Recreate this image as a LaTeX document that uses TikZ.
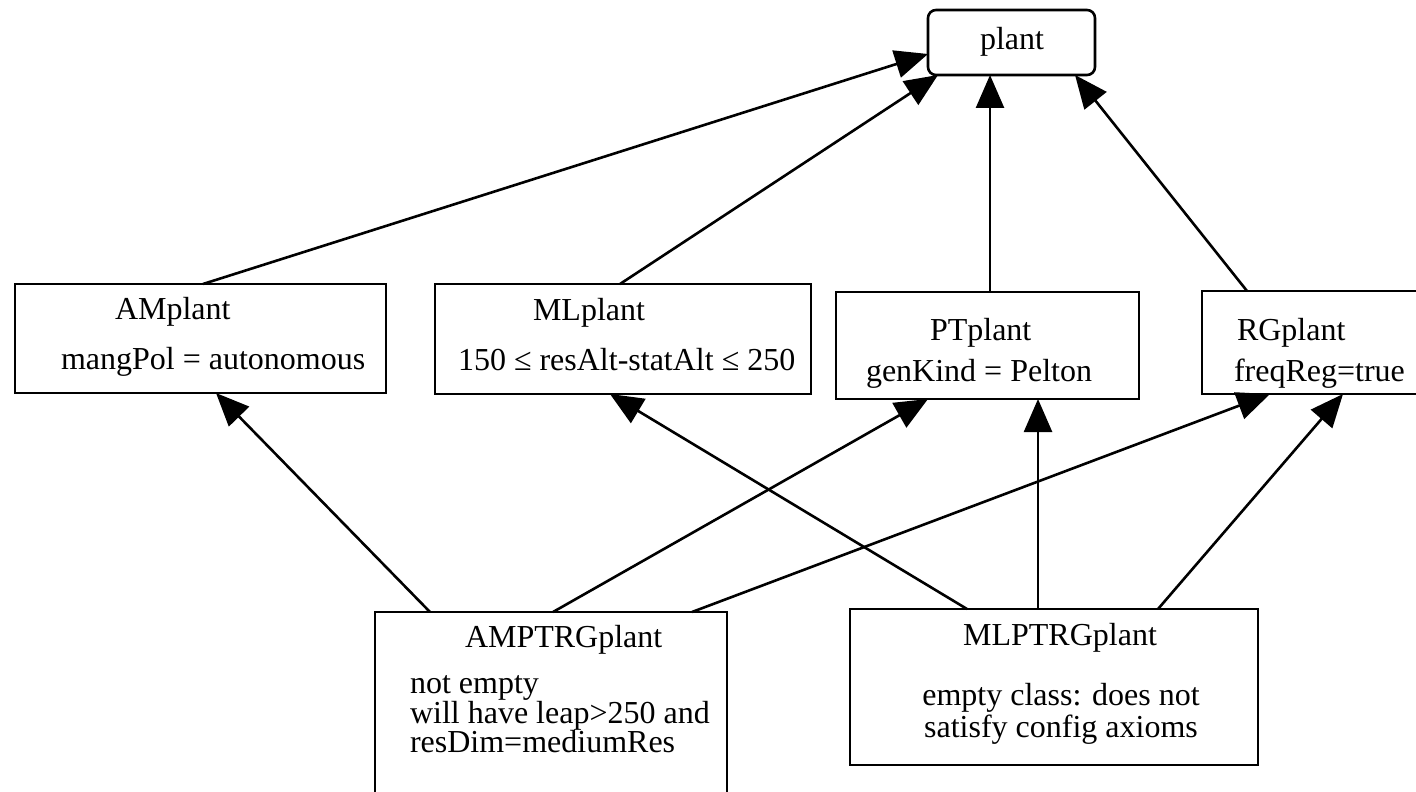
\documentclass[tikz,border=0pt]{standalone}
\usepackage{fontspec}
\setmainfont{Liberation Serif}
\usetikzlibrary{arrows.meta,calc}
\begin{document}
\begin{tikzpicture}[x=0.5pt,y=-0.5pt,
  box/.style={draw,line width=1.3pt,inner sep=0pt,outer sep=0pt,anchor=north west},
  txt/.style={inner sep=0pt,outer sep=0pt,font=\fontsize{16}{15}\selectfont},
  lt/.style={txt,anchor=base west},
  ct/.style={txt,anchor=base},
  arr/.style={line width=1.3pt,-{Triangle[length=16.5pt,width=14pt]}}]
\useasboundingbox (0,0) rectangle (1416,791);
\clip (0,0) rectangle (1416,791);
% boxes
\node[box,rounded corners=4pt,minimum width=83.5pt,minimum height=32.5pt] (plant) at (928,10) {};
\node[box,minimum width=185.5pt,minimum height=54.5pt] (AM) at (15,284) {};
\node[box,minimum width=188pt,minimum height=55pt] (ML) at (435,284) {};
\node[box,minimum width=151.5pt,minimum height=53.5pt] (PT) at (836,292) {};
\node[box,minimum width=108pt,minimum height=51.5pt] (RG) at (1202,291) {};
\node[box,minimum width=176pt,minimum height=110pt] (AMPTRG) at (375,612) {};
\node[box,minimum width=204pt,minimum height=78pt] (MLPTRG) at (850,609) {};
% texts
\node[ct] (tplant) at (1012,50) {plant};
\node[lt] (tAM1) at (115,319) {AMplant};
\node[lt] (tAM2) at (61,369) {mangPol = autonomous};
\node[lt] (tML1) at (533,320) {MLplant};
\node[lt] (tML2) at (458,370) {150 ≤ resAlt-statAlt ≤ 250};
\node[lt] (tPT1) at (930,340) {PTplant};
\node[lt] (tPT2) at (866,381) {genKind = Pelton};
\node[lt] (tRG1) at (1237,340) {RGplant};
\node[lt] (tRG2) at (1234,381) {freqReg=true};
\node[lt] (tA1) at (465,647) {AMPTRGplant};
\node[lt] (tA2) at (410,693) {not empty};
\node[lt] (tA3) at (410,723) {will have leap>250 and};
\node[lt] (tA4) at (410,752) {resDim=mediumRes};
\node[ct] (tM1) at (1060,645) {MLPTRGplant};
\node[ct] (tM2) at (1061,705) {empty class: does not};
\node[ct] (tM3) at (1061,737) {satisfy config axioms};
% connectors
\draw[arr] ($(AM.north west)+(188,0)$) -- ($(plant.north west)+(0,44)$);
\draw[arr] ($(ML.north west)+(185,0)$) -- ($(plant.south west)+(10,0)$);
\draw[arr] ($(PT.north west)+(154,0)$) -- ($(plant.south west)+(62,0)$);
\draw[arr] ($(RG.north west)+(45,0)$) -- ($(plant.south west)+(147,0)$);
\draw[arr] ($(AMPTRG.north west)+(55,0)$) -- ($(AM.south west)+(201,0)$);
\draw[arr] ($(AMPTRG.north west)+(178,0)$) -- ($(PT.south west)+(92,0)$);
\draw[arr] ($(AMPTRG.north west)+(317,0)$) -- ($(RG.south west)+(68,0)$);
\draw[arr] ($(MLPTRG.north west)+(117,0)$) -- ($(ML.south west)+(175,0)$);
\draw[arr] ($(MLPTRG.north west)+(188,0)$) -- ($(PT.south west)+(202,0)$);
\draw[arr] ($(MLPTRG.north west)+(308,0)$) -- ($(RG.south west)+(141,0)$);
\end{tikzpicture}
\end{document}
